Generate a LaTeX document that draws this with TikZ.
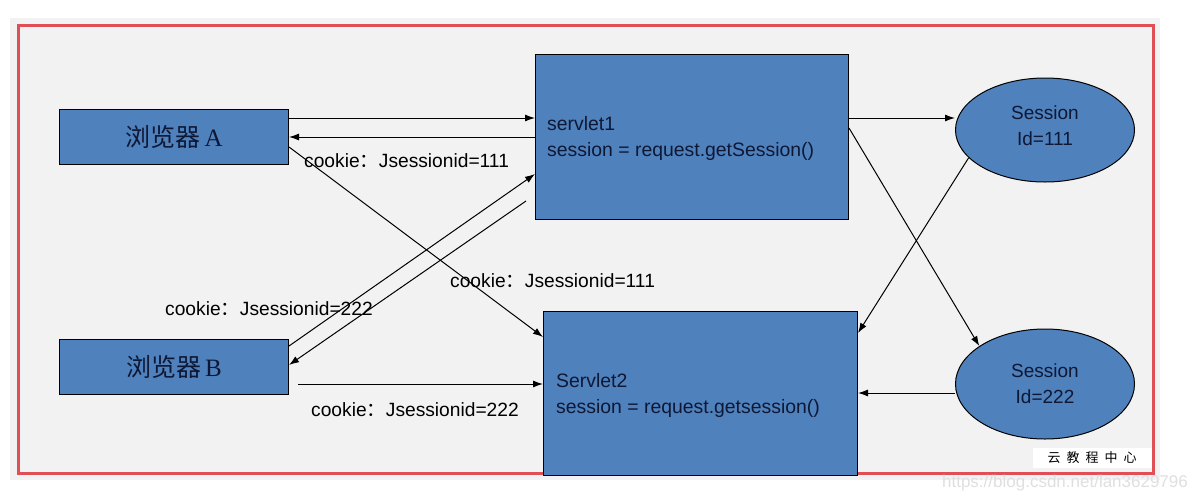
\documentclass[tikz,border=0pt]{standalone}
\usepackage{fontspec}
\setmainfont{Liberation Sans}
\newfontfamily\cjk{Noto Sans CJK SC}
\newfontfamily\serif{Liberation Serif}
\usetikzlibrary{arrows.meta}
\usetikzlibrary{shapes.geometric}
\definecolor{boxblue}{HTML}{4F81BD}
\definecolor{pagegray}{HTML}{F2F2F2}
\definecolor{framered}{HTML}{DF4F55}
\definecolor{ink}{HTML}{0E1835}
\newcommand{\fwcolon}{{\cjk ：}}

\begin{document}
\begin{tikzpicture}[x=1pt,y=-1pt,>={Latex[length=10pt,width=7pt]},
		box/.style={rectangle,draw=black,line width=1pt,fill=boxblue,inner sep=0pt,anchor=north west},
		sess/.style={ellipse,draw=black,line width=1pt,fill=boxblue,inner sep=0pt,minimum width=179pt,align=center,text=ink,font=\fontsize{19}{26}\selectfont},
		code/.style={anchor=west,align=left,inner sep=0pt,text=ink,font=\fontsize{19.4}{26}\selectfont},
		cookie/.style={anchor=west,inner sep=0pt,font=\fontsize{19.2}{22}\selectfont},
		conn/.style={->,line width=1pt}]
			\useasboundingbox (0,0) rectangle (1189,499);
			\fill[pagegray] (10,18) rectangle (1160,480);
			\draw[framered,line width=3pt] (18,25) rectangle (1153,473);
			% browsers
			\node[box,minimum width=229pt,minimum height=55pt] (a) at (59,109) {};
			\node[box,minimum width=229pt,minimum height=55pt] (b) at (59,339) {};
			\node[text=ink,font=\fontsize{25}{25}\selectfont] (la) at (a.center) {\cjk 浏览器\,\serif A};
			\node[text=ink,font=\fontsize{25}{25}\selectfont] (lb) at (b.center) {\cjk 浏览器\,\serif B};
			% servlets
			\node[box,minimum width=313pt,minimum height=165pt] (s1) at (535,54) {};
			\node[box,minimum width=314pt,minimum height=164pt] (s2) at (543,311) {};
			\node[code] (t1) at (547,138) {servlet1\\session = request.getSession()};
			\node[code] (t2) at (556,395) {Servlet2\\session = request.getsession()};
			% sessions
			\node[sess,minimum height=104pt] (x1) at (1045,130) {};
			\node[sess,minimum height=110pt] (x2) at (1045,384) {Session\\Id=222};
			\node[align=center,text=ink,font=\fontsize{19}{26}\selectfont] (lx1) at (1045,126) {Session\\Id=111};
			% connectors
			\draw[conn] (a.east |- 0,118) -- (s1.west |- 0,118);
			\draw[conn] (s1.west |- 0,137) -- (a.east |- 0,137);
			\draw[conn] ([yshift=-10pt]a.east) -- (s2.west |- 0,337);
			\draw[conn] ([yshift=-7pt]b.north east) -- (s1.west |- 0,174);
			\draw[conn] ([xshift=-9pt]s1.west |- 0,201) -- (b.east |- 0,365);
			\draw[conn] ([xshift=9pt]b.east |- 0,384) -- (s2.west |- 0,384);
			\draw[conn] (s1.east |- 0,118) -- (x1.west |- 0,118);
			\draw[conn] (s1.east |- 0,128) -- (x2.150);
			\draw[conn] (x1.200) -- (s2.east |- 0,333);
			\draw[conn] (x2.west |- 0,393) -- (s2.east |- 0,393);
			% cookie labels
			\node[cookie] (c1) at (304,161) {cookie\fwcolon Jsessionid=111};
			\node[cookie] (c2) at (450,281) {cookie\fwcolon Jsessionid=111};
			\node[cookie] (c3) at (165,309) {cookie\fwcolon Jsessionid=222};
			\node[cookie] (c4) at (311,410) {cookie\fwcolon Jsessionid=222};
			% watermark
			\node[fill=white,minimum width=119pt,minimum height=20pt,inner sep=0pt,font=\cjk\fontsize{13}{13}\selectfont] (wm) at (1092,458) {云\hspace{6pt}教\hspace{6pt}程\hspace{6pt}中\hspace{6pt}心};
			\node[text=gray!25,font=\fontsize{17}{17}\selectfont] (url) at (1065,483) {https://blog.csdn.net/lan3629796};
\end{tikzpicture}
\end{document}
